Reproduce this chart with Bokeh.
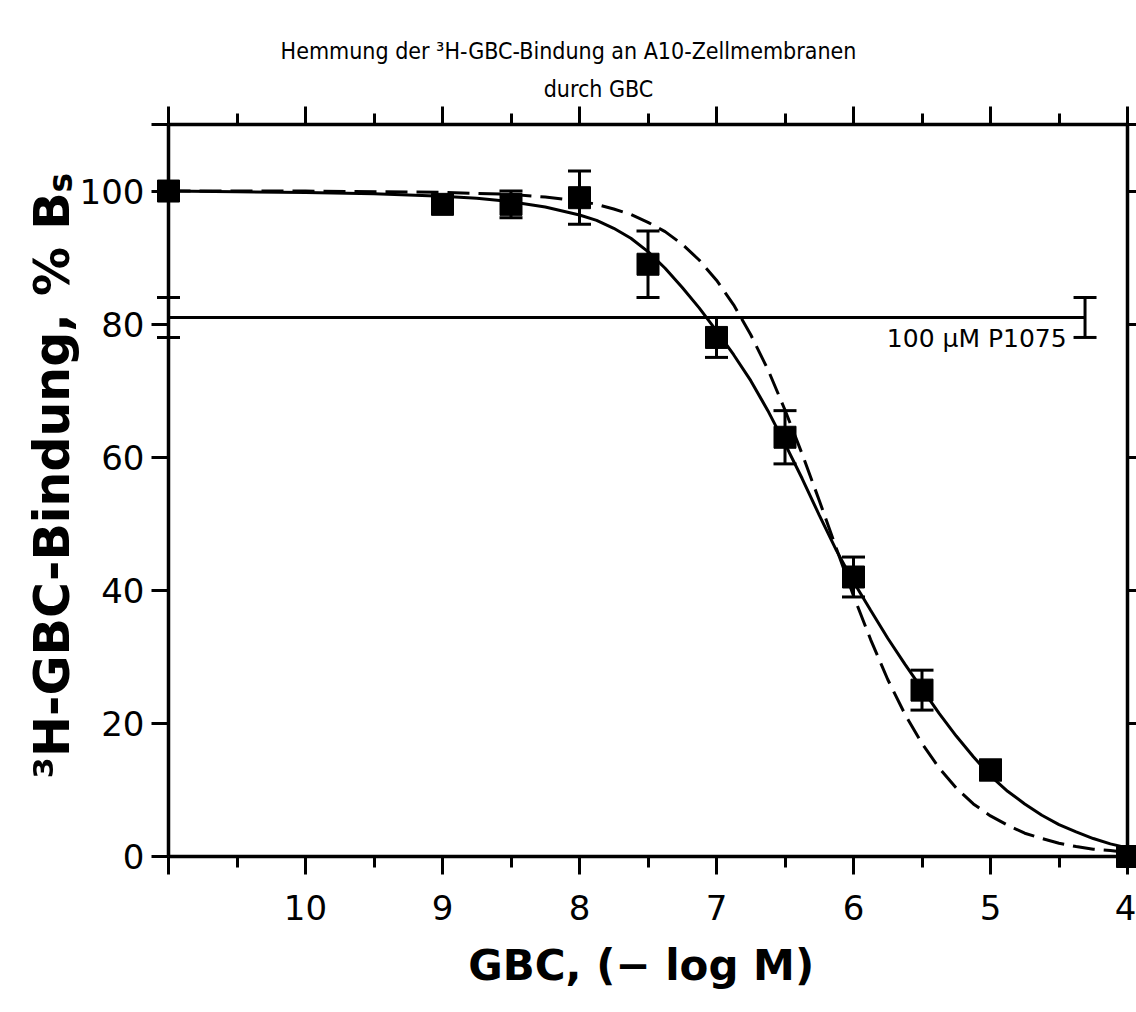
from math import pi
from bokeh.plotting import figure
from bokeh.models import (Range1d, FixedTicker, LinearAxis, Label, Whisker,
                          TeeHead, ColumnDataSource)
from bokeh.embed import file_html
from bokeh.resources import INLINE

# ---------------- data ----------------
gbc_logm = [11, 9, 8.5, 8, 7.5, 7, 6.5, 6, 5.5, 5, 4]
binding = [100, 98, 98, 99, 89, 78, 63, 42, 25, 13, 0]
binding_err = [0, 0, 2, 4, 5, 3, 4, 3, 3, 1.5, 0]

solid_x = [11, 10.5, 10, 9.5, 9, 8.75, 8.5, 8.25, 8, 7.875, 7.75, 7.625, 7.5,
           7.375, 7.25, 7.125, 7, 6.875, 6.75, 6.625, 6.5, 6.375, 6.25, 6.125,
           6, 5.875, 5.75, 5.625, 5.5, 5.375, 5.25, 5.125, 5, 4.875, 4.75,
           4.625, 4.5, 4.375, 4.25, 4.125, 4]
solid_y = [100.0, 99.9, 99.8, 99.6, 99.2, 98.9, 98.4, 97.6, 96.4, 95.6, 94.4,
           92.9, 90.9, 88.4, 85.5, 82.4, 79.0, 75.4, 71.5, 67.0, 62.0, 56.8,
           51.3, 46.0, 41.3, 37.0, 32.8, 28.9, 25.2, 21.5, 18.1, 15.0, 12.1,
           9.8, 7.9, 6.2, 4.8, 3.7, 2.7, 1.9, 1.3]

dashed_x = [11, 10, 9, 8.5, 8.25, 8, 7.875, 7.75, 7.625, 7.5, 7.375, 7.25,
            7.125, 7, 6.875, 6.75, 6.625, 6.5, 6.375, 6.25, 6.125, 6, 5.875,
            5.75, 5.625, 5.5, 5.375, 5.25, 5.125, 5, 4.875, 4.75, 4.625, 4.5,
            4.375, 4.25, 4.125, 4]
dashed_y = [100.0, 100.0, 99.8, 99.5, 99.1, 98.5, 98.0, 97.3, 96.5, 95.3,
            93.9, 92.0, 89.6, 86.6, 82.9, 78.4, 73.2, 67.1, 60.5, 53.5, 46.3,
            39.2, 32.6, 26.6, 21.4, 17.0, 13.3, 10.3, 7.9, 6.1, 4.7, 3.5, 2.7,
            2.0, 1.5, 1.1, 0.9, 0.6]

ref_x = [11, 4.31]
ref_level = [81, 81]
ref_err = 3
ref_text = "100  µM  P1075"

x_major = [11, 10, 9, 8, 7, 6, 5, 4]
x_minor = [10.5, 9.5, 8.5, 7.5, 6.5, 5.5, 4.5]
y_major = [0, 20, 40, 60, 80, 100, 110]

title1 = "Hemmung der ³H-GBC-Bindung an A10-Zellmembranen"
title2 = "durch GBC"
xlabel = "GBC, (−  log M)"
ylabel_main = "³H-GBC-Bindung, % B"
ylabel_sub = "s"

# ---------------- geometry ----------------
W, H = 1136, 1012
FL, FR, FT, FB = 168, 1127, 124, 856      # axis box in pixels
X0, X1, Y0, Y1 = 11, 4, 0, 110            # axis box in data units
sx = (X1 - X0) / (FR - FL)
sy = (Y1 - Y0) / (FB - FT)


def px2x(px):
    return X0 + (px - FL) * sx


def py2y(py):
    return Y0 + (FB - py) * sy


p = figure(width=W, height=H,
           x_range=Range1d(px2x(0), px2x(W)),
           y_range=Range1d(py2y(H), py2y(0)),
           output_backend="svg", toolbar_location=None,
           x_axis_location=None, y_axis_location=None,
           min_border=0, min_border_left=0, min_border_right=0,
           min_border_top=0, min_border_bottom=0)
p.title.visible = False
p.outline_line_color = None
p.xgrid.visible = False
p.ygrid.visible = False
p.background_fill_color = "white"
p.border_fill_color = "white"

TICKFONT = "DejaVu Sans"
TITLEFONT = "DejaVu Sans Condensed, Liberation Sans Narrow, Liberation Sans"


def base_axis(ax):
    ax.axis_line_width = 3.5
    ax.axis_line_color = "black"
    ax.major_tick_line_width = 3
    ax.minor_tick_line_width = 3
    ax.major_tick_in = 0
    ax.minor_tick_in = 0
    ax.major_label_text_font = TICKFONT
    ax.major_label_text_color = "black"


xb = LinearAxis(ticker=FixedTicker(ticks=x_major, minor_ticks=x_minor),
                fixed_location=Y0, bounds=(X1, X0))
base_axis(xb)
xb.major_tick_out = 18
xb.minor_tick_out = 11
xb.major_label_text_font_size = "34px"
xb.major_label_standoff = 20
xb.major_label_overrides = {11: ""}
p.add_layout(xb, "below")

xt = LinearAxis(ticker=FixedTicker(ticks=x_major, minor_ticks=x_minor),
                fixed_location=Y1, bounds=(X1, X0))
base_axis(xt)
xt.major_tick_out = 18
xt.minor_tick_out = 11
xt.major_label_text_font_size = "1px"
xt.major_label_text_alpha = 0
p.add_layout(xt, "above")

yl = LinearAxis(ticker=FixedTicker(ticks=y_major), fixed_location=X0,
                bounds=(Y0, Y1))
base_axis(yl)
yl.major_tick_out = 17
yl.minor_tick_out = 0
yl.major_label_text_font_size = "34px"
yl.major_label_standoff = 7
yl.major_label_overrides = {110: ""}
p.add_layout(yl, "left")

yr = LinearAxis(ticker=FixedTicker(ticks=y_major), fixed_location=X1,
                bounds=(Y0, Y1))
base_axis(yr)
yr.major_tick_out = 12
yr.minor_tick_out = 0
yr.major_label_text_font_size = "1px"
yr.major_label_text_alpha = 0
p.add_layout(yr, "right")

# fitted curves
p.line(solid_x, solid_y, line_color="black", line_width=3)
p.line(dashed_x, dashed_y, line_color="black", line_width=3,
       line_dash="22 9")

# reference level line with end error bars
p.line(ref_x, ref_level, line_color="black", line_width=3)
ref_src = ColumnDataSource(dict(
    base=ref_x,
    upper=[v + ref_err for v in ref_level],
    lower=[v - ref_err for v in ref_level]))
p.add_layout(Whisker(source=ref_src, base="base", upper="upper",
                     lower="lower", dimension="height", line_width=3,
                     upper_head=TeeHead(size=23, line_width=3),
                     lower_head=TeeHead(size=23, line_width=3)))

# data error bars
eb_x = [x for x, e in zip(gbc_logm, binding_err) if e > 0]
eb_u = [y + e for y, e in zip(binding, binding_err) if e > 0]
eb_l = [y - e for y, e in zip(binding, binding_err) if e > 0]
eb_src = ColumnDataSource(dict(base=eb_x, upper=eb_u, lower=eb_l))
p.add_layout(Whisker(source=eb_src, base="base", upper="upper",
                     lower="lower", dimension="height", line_width=3,
                     upper_head=TeeHead(size=23, line_width=3),
                     lower_head=TeeHead(size=23, line_width=3)))

# data points
p.scatter(gbc_logm, binding, marker="square", size=22, color="black")

# texts
p.add_layout(Label(x=px2x(1082), y=py2y(338), text=ref_text,
                   text_align="right", text_baseline="alphabetic",
                   text_color="black",
                   text_font="DejaVu Sans", text_font_size="25px"))

p.add_layout(Label(x=px2x(568), y=py2y(50), text=title1,
                   text_align="center", text_baseline="middle",
                   text_color="black",
                   text_font=TITLEFONT, text_font_size="23px"))
p.add_layout(Label(x=px2x(598), y=py2y(88), text=title2,
                   text_align="center", text_baseline="middle",
                   text_color="black",
                   text_font=TITLEFONT, text_font_size="23px"))

p.add_layout(Label(x=px2x(648), y=py2y(965), text=xlabel,
                   text_align="center", text_baseline="middle",
                   text_color="black",
                   text_font="DejaVu Sans", text_font_style="bold",
                   text_font_size="42px"))

p.add_layout(Label(x=px2x(52), y=py2y(192), text=ylabel_main, angle=pi / 2,
                   text_align="right", text_baseline="alphabetic",
                   text_color="black",
                   text_font="DejaVu Sans", text_font_style="bold",
                   text_font_size="49px"))
p.add_layout(Label(x=px2x(60), y=py2y(192), text=ylabel_sub, angle=pi / 2,
                   text_align="left", text_baseline="alphabetic",
                   text_color="black",
                   text_font="DejaVu Sans", text_font_style="bold",
                   text_font_size="33px"))

open("out.html", "w").write(file_html(p, INLINE))
